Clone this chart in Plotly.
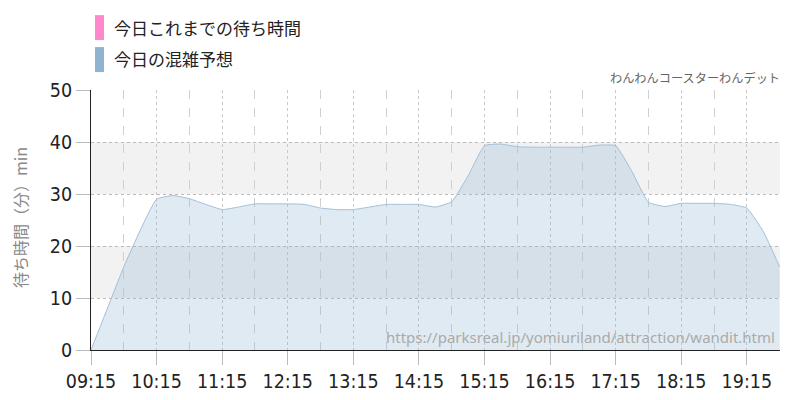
import plotly.graph_objects as go

DAY = "2024-01-01 "
times = ["09:15", "09:30", "09:45", "10:00", "10:15", "10:30", "10:45", "11:00", "11:15", "11:30",
         "11:45", "12:00", "12:15", "12:30", "12:45", "13:00", "13:15", "13:30", "13:45", "14:00",
         "14:15", "14:30", "14:45", "15:00", "15:15", "15:30", "15:45", "16:00", "16:15", "16:30",
         "16:45", "17:00", "17:15", "17:30", "17:45", "18:00", "18:15", "18:30", "18:45", "19:00",
         "19:15", "19:30", "19:45"]
forecast = [0, 8, 16, 23, 29, 29.7, 29.1, 28, 27, 27.5,
            28.1, 28.1, 28.1, 28, 27.3, 27, 27, 27.5, 28, 28,
            28, 27.5, 28.5, 33.5, 39.3, 39.6, 39.1, 39, 39, 39,
            39, 39.4, 39.3, 34.3, 28.4, 27.6, 28.2, 28.2, 28.2, 28,
            27.3, 22.8, 16]
legend_labels = ["今日これまでの待ち時間", "今日の混雑予想"]
legend_colors = ["#ff88cc", "#8fb3d0"]
y_ticks = [0, 10, 20, 30, 40, 50]
bands = [(10, 20), (30, 40)]

x = [DAY + t for t in times]

fig = go.Figure()
fig.add_trace(go.Scatter(
    x=x, y=forecast, mode="lines", name=legend_labels[1],
    line=dict(color="#a3bfd8", width=1, shape="spline", smoothing=0.4),
    fill="tozeroy", fillcolor="rgba(143,179,208,0.28)",
    showlegend=False, hoverinfo="skip"))

for lo, hi in bands:
    fig.add_shape(type="rect", xref="paper", yref="y", x0=0, x1=1, y0=lo, y1=hi,
                  fillcolor="#f2f2f2", line=dict(width=0), layer="below")

# legend (drawn manually)
leg_y = [(1.192, 1.288, 1.242), (1.069, 1.165, 1.123)]
for (y0, y1, yt), lab, col in zip(leg_y, legend_labels, legend_colors):
    fig.add_shape(type="rect", xref="paper", yref="paper", x0=0.0058, x1=0.0189, y0=y0, y1=y1,
                  fillcolor=col, line=dict(width=0))
    fig.add_annotation(xref="paper", yref="paper", x=0.0305, y=yt, text=lab, showarrow=False,
                       xanchor="left", yanchor="middle",
                       font=dict(size=17, color="#222", family="Noto Sans CJK JP"))

fig.add_annotation(xref="paper", yref="paper", x=1, y=1.046, xshift=2, text="わんわんコースターわんデット",
                   showarrow=False, xanchor="right", yanchor="middle",
                   font=dict(size=12.2, color="#666", family="Noto Sans CJK JP"))
fig.add_annotation(xref="paper", yref="paper", x=0.9956, y=0.05,
                   text="https://parksreal.jp/yomiuriland/attraction/wandit.html",
                   showarrow=False, xanchor="right", yanchor="middle",
                   font=dict(size=15, color="#aaaaaa", family="Noto Sans"))
fig.add_annotation(xref="paper", yref="paper", x=-0.103, y=0.508, text="待ち時間（分）min",
                   showarrow=False, textangle=-90, xanchor="center", yanchor="middle",
                   font=dict(size=16, color="#888", family="Noto Sans CJK JP"))

tickfont = dict(size=19.5, family="DejaVu Sans Condensed, DejaVu Sans, sans-serif", color="#222")

# page body has an 8px margin, so the figure margins are shifted to compensate
fig.update_layout(
    width=800, height=400,
    margin=dict(l=83, r=28, t=82, b=58),
    plot_bgcolor="white", paper_bgcolor="white",
    font=dict(family="Noto Sans CJK JP"),
    xaxis=dict(
        type="date", range=[DAY + "09:15", DAY + "19:45:20"],
        tick0=DAY + "09:15", dtick=3600000, tickformat="%H:%M",
        ticks="outside", ticklen=14, tickcolor="#bbb", tickwidth=1,
        showgrid=True, gridcolor="#c8c8c8", griddash="dot", gridwidth=1,
        minor=dict(dtick=1800000, tick0=DAY + "09:45", showgrid=True,
                   gridcolor="#d0d0d0", griddash="dash", ticks=""),
        showline=True, linecolor="#222", linewidth=1,
        tickfont=tickfont, fixedrange=True),
    yaxis=dict(
        range=[0, 50], tickvals=y_ticks,
        ticks="outside", ticklen=14, tickcolor="#bbb", tickwidth=1,
        showgrid=True, gridcolor="#bbb", griddash="dot", gridwidth=1,
        zeroline=False, showline=True, linecolor="#222", linewidth=1,
        tickfont=tickfont, fixedrange=True),
)

fig.write_html("out.html")
